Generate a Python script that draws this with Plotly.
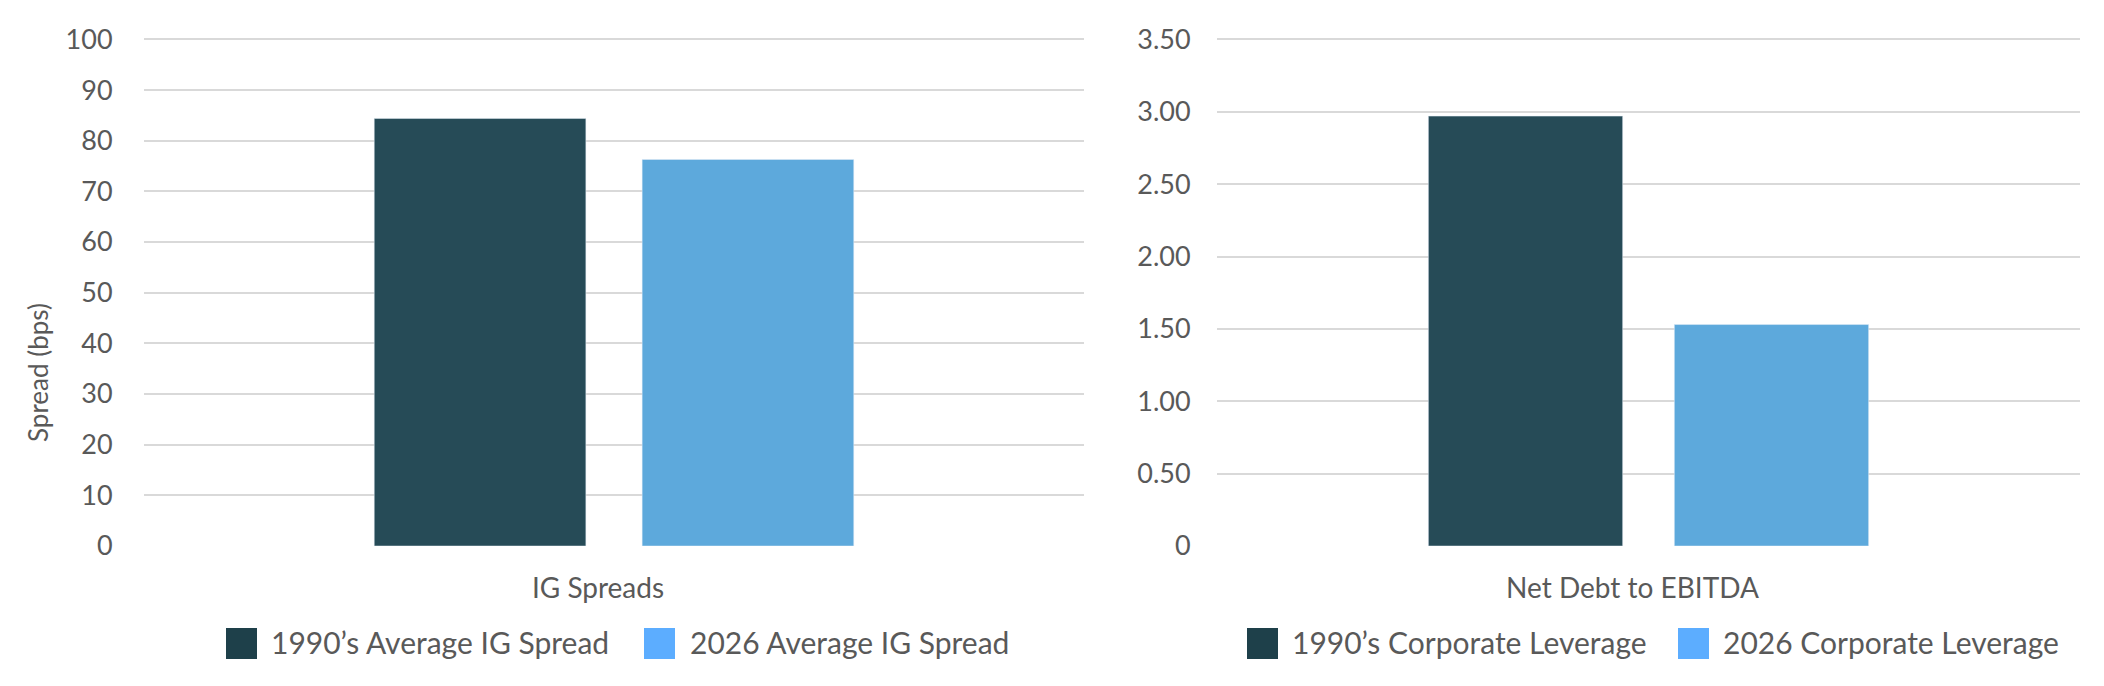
import plotly.graph_objects as go
from plotly.subplots import make_subplots

# data
spread_cats = ["IG Spreads"]
leverage_cats = ["Net Debt to EBITDA"]

spread_names = ["1990\u2019s Average IG Spread", "2026 Average IG Spread"]
leverage_names = ["1990\u2019s Corporate Leverage", "2026 Corporate Leverage"]

spread_1990s = [84.4]
spread_2026 = [76.3]
leverage_1990s = [2.97]
leverage_2026 = [1.53]

spread_ticks = [0, 10, 20, 30, 40, 50, 60, 70, 80, 90, 100]
spread_ticktext = ["0", "10", "20", "30", "40", "50", "60", "70", "80", "90", "100"]
leverage_ticks = [0, 0.5, 1.0, 1.5, 2.0, 2.5, 3.0, 3.5]
leverage_ticktext = ["0", "0.50", "1.00", "1.50", "2.00", "2.50", "3.00", "3.50"]

# look
OFF = 8  # page body margin
W, H = 2104 - 2 * OFF, 686 - 2 * OFF
dark = "#264b57"
light = "#5da9dc"
dark_key = "#1e404a"
light_key = "#5cadff"
grey_text = "#595959"
grid = "#d9d9d9"
font_name = "Lato"


def px(x):
    return (x - OFF) / W


def py(y):
    return 1 - (y - OFF) / H


fig = make_subplots(rows=1, cols=2)

fig.add_trace(go.Bar(x=spread_cats, y=spread_1990s, name=spread_names[0],
                     marker=dict(color=dark), showlegend=False), row=1, col=1)
fig.add_trace(go.Bar(x=spread_cats, y=spread_2026, name=spread_names[1],
                     marker=dict(color=light), showlegend=False), row=1, col=1)
fig.add_trace(go.Bar(x=leverage_cats, y=leverage_1990s, name=leverage_names[0],
                     marker=dict(color=dark), showlegend=False), row=1, col=2)
fig.add_trace(go.Bar(x=leverage_cats, y=leverage_2026, name=leverage_names[1],
                     marker=dict(color=light), showlegend=False), row=1, col=2)

# plot areas, a hair above the top tick so its gridline shows
y_top, y_zero = 39.4, 546
pad = 2
left_max = spread_ticks[-1] * (1 + pad / (y_zero - y_top))
right_max = leverage_ticks[-1] * (1 + pad / (y_zero - y_top))
y_dom = [py(y_zero), py(y_top - pad)]

axis_common = dict(showline=False, zeroline=False, ticks="outside",
                   tickcolor="rgba(0,0,0,0)", automargin=False,
                   tickfont=dict(size=27, color=grey_text))

fig.update_xaxes(axis_common, showgrid=False, ticklen=17, ticklabelshift=-16,
                 tickfont=dict(size=28))
fig.update_yaxes(axis_common, showgrid=True, gridcolor=grid, gridwidth=2)

fig.update_xaxes(domain=[px(144), px(1084)], row=1, col=1)
fig.update_xaxes(domain=[px(1217), px(2080)], row=1, col=2)
fig.update_yaxes(domain=y_dom, range=[0, left_max], tickvals=spread_ticks,
                 ticktext=spread_ticktext, ticklen=25, row=1, col=1)
fig.update_yaxes(domain=y_dom, range=[0, right_max], tickvals=leverage_ticks,
                 ticktext=leverage_ticktext, ticklen=20, row=1, col=2)

# y title
fig.add_annotation(text="Spread (bps)", textangle=-90, xref="paper", yref="paper",
                   x=px(38), y=py(373), xanchor="center", yanchor="middle",
                   showarrow=False, font=dict(size=26, color=grey_text))

# legends drawn as keys + labels
legend_rows = [
    (226, 269, spread_names[0], dark_key),
    (644, 688, spread_names[1], light_key),
    (1247, 1290, leverage_names[0], dark_key),
    (1678, 1721, leverage_names[1], light_key),
]
for kx, tx, label, col in legend_rows:
    fig.add_shape(type="rect", xref="paper", yref="paper",
                  x0=px(kx), x1=px(kx + 31), y0=py(659), y1=py(628),
                  fillcolor=col, line=dict(width=0))
    fig.add_annotation(text=label, xref="paper", yref="paper",
                       x=px(tx), y=py(642), xanchor="left", yanchor="middle",
                       showarrow=False, font=dict(size=30, color=grey_text))

fig.update_layout(
    width=W, height=H,
    margin=dict(l=0, r=0, t=0, b=0),
    barmode="group", bargap=0.43, bargroupgap=0.21,
    plot_bgcolor="white", paper_bgcolor="white",
    font=dict(family=font_name, color=grey_text),
    showlegend=False,
)

fig.write_html("out.html")
